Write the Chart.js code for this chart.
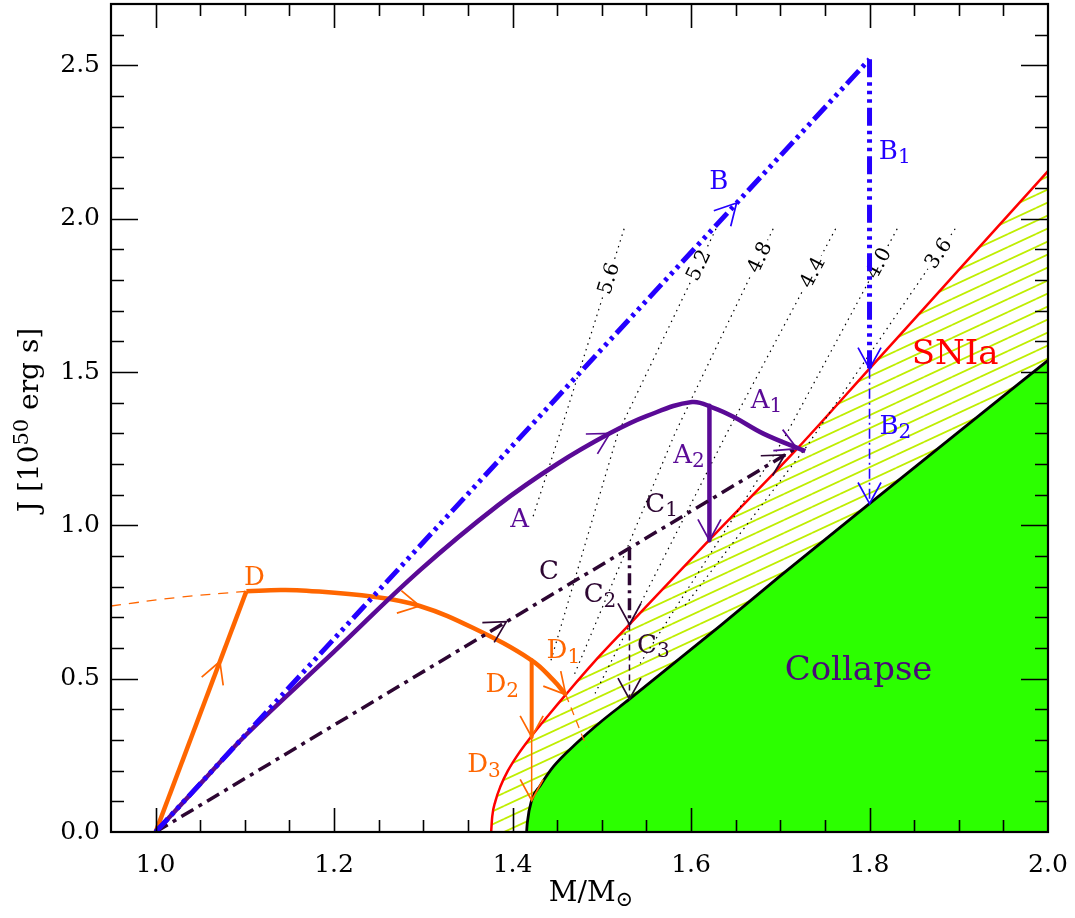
<!DOCTYPE html>
<html><head><meta charset="utf-8">
<script src="https://cdn.jsdelivr.net/npm/chart.js@4.4.1/dist/chart.umd.min.js"></script>
<style>html,body{margin:0;padding:0;background:#fff;overflow:hidden}canvas{display:block}</style>
</head><body>
<canvas id="c" width="1075" height="918"></canvas>
<script>
// ---------- data ----------
const xTicks = [1.0, 1.2, 1.4, 1.6, 1.8, 2.0];
const yTicks = [0.0, 0.5, 1.0, 1.5, 2.0, 2.5];

// SNIa boundary (red) and collapse boundary (black)
const snX = [1.376, 1.3772, 1.3807, 1.3866, 1.3948, 1.4054, 1.4205, 1.440, 1.4596, 1.49, 1.531, 1.62, 1.719, 1.8, 1.9, 2.0];
const snY = [0.0, 0.05, 0.1, 0.15, 0.2, 0.25, 0.31, 0.38, 0.448, 0.55, 0.677, 0.951, 1.25, 1.511, 1.833, 2.155];
const blX = [1.4157, 1.4165, 1.4214, 1.4307, 1.4457, 1.4719, 1.50, 1.531, 1.6326, 1.7, 1.8, 1.9, 2.0];
const blY = [0.0, 0.03, 0.104, 0.15, 0.213, 0.29, 0.362, 0.433, 0.672, 0.835, 1.071, 1.305, 1.538];

// track A
const aX = [1.0, 1.05, 1.1017, 1.2, 1.296, 1.3836, 1.45, 1.509, 1.55, 1.601, 1.625, 1.648, 1.681, 1.728];
const aY = [0.0, 0.157, 0.318, 0.588, 0.853, 1.065, 1.2, 1.3, 1.356, 1.402, 1.383, 1.353, 1.299, 1.242];
const a2X = [1.6206, 1.6206], a2Y = [1.39, 0.951];
// track B
const bX = [1.0, 1.8], bY = [0.0, 2.52];
const b1X = [1.8, 1.8], b1Y = [2.52, 1.511];
const b2X = [1.8, 1.8], b2Y = [1.511, 1.071];
// track C
const cX = [1.0, 1.717], cY = [0.0, 1.25];
const c2X = [1.531, 1.531], c2Y = [0.925, 0.677];
const c3X = [1.531, 1.531], c3Y = [0.677, 0.433];
// track D
const dX = [1.0, 1.1017], dY = [0.0, 0.785];
const d1X = [1.1017, 1.14, 1.169, 1.244, 1.296, 1.356, 1.4214, 1.4457, 1.4596];
const d1Y = [0.785, 0.789, 0.787, 0.767, 0.737, 0.665, 0.56, 0.495, 0.448];
const dLeftX = [0.95, 1.025, 1.1017], dLeftY = [0.737, 0.765, 0.785];
const dRightX = [1.4596, 1.471, 1.483], dRightY = [0.448, 0.365, 0.277];
const d2X = [1.4214, 1.4214], d2Y = [0.56, 0.31];
const d3X = [1.4214, 1.4214], d3Y = [0.31, 0.103];

// dotted iso-lines
const isoNames = ['5.6', '5.2', '4.8', '4.4', '4.0', '3.6'];
const iso56X = [1.525, 1.453, 1.422], iso56Y = [1.967, 1.3, 1.02];
const iso52X = [1.628, 1.518, 1.442], iso52Y = [1.967, 1.3, 0.55];
const iso48X = [1.692, 1.582, 1.468], iso48Y = [1.967, 1.3, 0.505];
const iso44X = [1.762, 1.640, 1.4925], iso44Y = [1.967, 1.3, 0.452];
const iso40X = [1.831, 1.703, 1.543], iso40Y = [1.967, 1.277, 0.55];
const iso36X = [1.896, 1.729, 1.591], iso36Y = [1.967, 1.255, 0.73];
const isoLabelY = [1.805, 1.848, 1.874, 1.825, 1.855, 1.887];

// ---------- styles ----------
const RED = '#ff0000', BLUE = '#2400ff', PURPLE = '#5a0a96', DARK = '#2d0632',
      ORANGE = '#ff6600', GREEN = '#2cff00', HATCH = '#bfee00', COLL = '#4a0a78';
const FAM = '"DejaVu Serif", "Liberation Serif", serif';

const isoX = [iso56X, iso52X, iso48X, iso44X, iso40X, iso36X];
const isoY = [iso56Y, iso52Y, iso48Y, iso44Y, iso40Y, iso36Y];

// annotation labels: [main, subscript, x, y, color]
const notes = [
  ['A', '', 1.408, 1.026, PURPLE], ['A', '1', 1.6845, 1.415, PURPLE], ['A', '2', 1.5978, 1.234, PURPLE],
  ['B', '', 1.631, 2.128, BLUE], ['B', '1', 1.8283, 2.226, BLUE], ['B', '2', 1.829, 1.329, BLUE],
  ['C', '', 1.4409, 0.857, DARK], ['C', '1', 1.567, 1.076, DARK], ['C', '2', 1.498, 0.78, DARK], ['C', '3', 1.5578, 0.615, DARK],
  ['D', '', 1.1107, 0.835, ORANGE], ['D', '1', 1.4569, 0.598, ORANGE], ['D', '2', 1.3884, 0.487, ORANGE], ['D', '3', 1.3679, 0.226, ORANGE]
];
// arrowheads: [tipX, tipY, fromX, fromY, color]
const arrows = [
  [1.509, 1.30, 1.45, 1.2, PURPLE], [1.719, 1.25, 1.681, 1.299, PURPLE], [1.6206, 0.951, 1.6206, 1.2, PURPLE],
  [1.651, 2.051, 1.5, 1.575, BLUE], [1.8, 1.511, 1.8, 2.0, BLUE], [1.8, 1.071, 1.8, 1.3, BLUE],
  [1.393, 0.686, 1.2, 0.349, DARK], [1.705, 1.23, 1.5, 0.8725, DARK], [1.531, 0.677, 1.531, 0.9, DARK], [1.531, 0.433, 1.531, 0.6, DARK],
  [1.072, 0.556, 1.0, 0.0, ORANGE], [1.296, 0.737, 1.244, 0.767, ORANGE], [1.4596, 0.448, 1.4457, 0.495, ORANGE],
  [1.4214, 0.31, 1.4214, 0.5, ORANGE], [1.4214, 0.103, 1.4214, 0.3, ORANGE]
];

function hatchPattern() {
  const c = document.createElement('canvas'); c.width = 28; c.height = 13;
  const g = c.getContext('2d');
  g.strokeStyle = HATCH; g.lineWidth = 1.8;
  for (const [ox, oy] of [[0, 0], [-28, 0], [28, 0], [0, -13], [0, 13]]) {
    g.beginPath(); g.moveTo(ox, 13 + oy); g.lineTo(28 + ox, oy); g.stroke();
  }
  return g.createPattern(c, 'repeat');
}

function pts(xs, ys) { return xs.map((x, i) => ({ x: x, y: ys[i] })); }
function path(xs, ys, color, width, dash, extra) {
  return Object.assign({
    data: pts(xs, ys), borderColor: color, backgroundColor: color, borderWidth: width,
    borderDash: dash || [], showLine: true, pointRadius: 0, pointHoverRadius: 0, fill: false,
    tension: 0, order: 0, borderCapStyle: 'butt', borderJoinStyle: 'round'
  }, extra || {});
}

const datasets = [
  path(snX, snY, RED, 2.5, [], { fill: 'origin', backgroundColor: hatchPattern(), cubicInterpolationMode: 'monotone', order: 100 }),
  path(blX, blY, '#000', 2.8, [], { fill: 'origin', backgroundColor: GREEN, cubicInterpolationMode: 'monotone', order: 99 })
];
isoX.forEach((xs, i) => datasets.push(path(xs, isoY[i], '#000', 1.2, [1.5, 4.5], { order: 50, isoIdx: i })));
datasets.push(
  path(bX, bY, BLUE, 5, [18, 5, 3.5, 5, 3.5, 5, 3.5, 5]),
  path(b1X, b1Y, BLUE, 5, [18, 5, 3.5, 5, 3.5, 5, 3.5, 5]),
  path(b2X, b2Y, BLUE, 1.6, [10, 4, 2, 4]),
  path(cX, cY, DARK, 3.5, [14, 6, 4, 6]),
  path(c2X, c2Y, DARK, 3.5, [12, 5, 3, 5]),
  path(c3X, c3Y, DARK, 1.5, [6, 4]),
  path(aX, aY, PURPLE, 4.5, [], { tension: 0.4 }),
  path(a2X, a2Y, PURPLE, 4.5),
  path(dX, dY, ORANGE, 4.5),
  path(d1X, d1Y, ORANGE, 4.5, [], { tension: 0.4 }),
  path(dLeftX, dLeftY, ORANGE, 1.3, [10, 8], { tension: 0.4 }),
  path(dRightX, dRightY, ORANGE, 1.3, [8, 6]),
  path(d2X, d2Y, ORANGE, 4),
  path(d3X, d3Y, ORANGE, 1.5)
);

function drawRich(ctx, parts, cx, cy, size, color) {
  const small = Math.round(size * 0.75);
  let w = 0;
  const ws = parts.map(([t, k]) => {
    ctx.font = (k ? small : size) + 'px ' + FAM;
    const m = ctx.measureText(t).width; w += m; return m;
  });
  let x = cx - w / 2;
  const base = cy + size * 0.73 / 2;
  ctx.fillStyle = color; ctx.textAlign = 'left'; ctx.textBaseline = 'alphabetic';
  parts.forEach(([t, k], i) => {
    ctx.font = (k ? small : size) + 'px ' + FAM;
    const yy = k === 1 ? base + size * 0.17 : (k === 2 ? base - size * 0.36 : base);
    ctx.fillText(t, x, yy); x += ws[i];
  });
}

const overlay = {
  id: 'overlay',
  afterDatasetDraw(chart, args) {
    const ds = chart.data.datasets[args.index];
    if (ds.isoIdx === undefined) return;
    const i = ds.isoIdx, xs = isoX[i], ys = isoY[i], ly = isoLabelY[i];
    const sx = chart.scales.x, sy = chart.scales.y, ctx = chart.ctx;
    const t = (ys[0] - ly) / (ys[0] - ys[1]);
    const lx = xs[0] + t * (xs[1] - xs[0]);
    const px = sx.getPixelForValue(lx), py = sy.getPixelForValue(ly);
    const ang = Math.atan2(sy.getPixelForValue(ys[0]) - sy.getPixelForValue(ys[1]),
                           sx.getPixelForValue(xs[0]) - sx.getPixelForValue(xs[1]));
    ctx.save();
    ctx.translate(px, py); ctx.rotate(ang);
    ctx.font = '20px ' + FAM;
    const w = ctx.measureText(isoNames[i]).width;
    ctx.fillStyle = '#fff'; ctx.fillRect(-w / 2 - 3, -10, w + 6, 20);
    ctx.fillStyle = '#000'; ctx.textAlign = 'center'; ctx.textBaseline = 'middle';
    ctx.fillText(isoNames[i], 0, 1);
    ctx.restore();
  },
  afterDatasetsDraw(chart) {
    const sx = chart.scales.x, sy = chart.scales.y, ctx = chart.ctx;
    ctx.save();
    arrows.forEach(([tx, ty, fx, fy, col]) => {
      const X = sx.getPixelForValue(tx), Y = sy.getPixelForValue(ty);
      const FX = sx.getPixelForValue(fx), FY = sy.getPixelForValue(fy);
      const a = Math.atan2(Y - FY, X - FX), L = 24, h = 0.5;
      ctx.strokeStyle = col; ctx.lineWidth = 1.7; ctx.setLineDash([]);
      ctx.beginPath();
      ctx.moveTo(X - L * Math.cos(a - h), Y - L * Math.sin(a - h));
      ctx.lineTo(X, Y);
      ctx.lineTo(X - L * Math.cos(a + h), Y - L * Math.sin(a + h));
      ctx.stroke();
    });
    notes.forEach(([m, s, x, y, col]) => {
      const parts = [[m, 0]]; if (s) parts.push([s, 1]);
      drawRich(ctx, parts, sx.getPixelForValue(x), sy.getPixelForValue(y), 26, col);
    });
    drawRich(ctx, [['SNIa', 0]], sx.getPixelForValue(1.896), sy.getPixelForValue(1.568), 34, RED);
    drawRich(ctx, [['Collapse', 0]], sx.getPixelForValue(1.7877), sy.getPixelForValue(0.536), 34, COLL);
    ctx.restore();
  },
  afterDraw(chart) {
    const { left, right, top, bottom } = chart.chartArea;
    const sx = chart.scales.x, sy = chart.scales.y, ctx = chart.ctx;
    ctx.save();
    ctx.strokeStyle = '#000'; ctx.setLineDash([]);
    ctx.lineWidth = 1.6;
    ctx.beginPath();
    for (let k = 1; k < 21; k++) {
      const v = 0.95 + k * 0.05;
      const major = xTicks.some(t => Math.abs(t - v) < 1e-6);
      const L = major ? 24 : 12, p = Math.round(sx.getPixelForValue(v)) + 0.5;
      ctx.moveTo(p, bottom); ctx.lineTo(p, bottom - L);
      ctx.moveTo(p, top); ctx.lineTo(p, top + L);
    }
    for (let k = 1; k < 27; k++) {
      const v = k * 0.1;
      const major = yTicks.some(t => Math.abs(t - v) < 1e-6);
      const L = major ? 27 : 13, p = Math.round(sy.getPixelForValue(v)) + 0.5;
      ctx.moveTo(left, p); ctx.lineTo(left + L, p);
      ctx.moveTo(right, p); ctx.lineTo(right - L, p);
    }
    ctx.stroke();
    ctx.lineWidth = 2.2;
    ctx.strokeRect(left, top, right - left, bottom - top);
    drawRich(ctx, [['M/M', 0], ['\u2299', 1]], 591, 891, 28, '#000');
    ctx.translate(28, 420); ctx.rotate(-Math.PI / 2);
    drawRich(ctx, [['J [10', 0], ['50', 2], [' erg s]', 0]], 0, 0, 28, '#000');
    ctx.restore();
  }
};

function zeroPad(s) { s.paddingTop = 0; s.paddingBottom = 0; s.paddingLeft = 0; s.paddingRight = 0; }
const tickFont = { family: 'DejaVu Serif', size: 25 };
new Chart(document.getElementById('c'), {
  type: 'scatter',
  data: { datasets: datasets },
  plugins: [overlay],
  options: {
    responsive: false, animation: false, events: [],
    layout: { padding: { left: 0, right: 27, top: 4, bottom: 0 } },
    plugins: { legend: { display: false }, tooltip: { enabled: false } },
    scales: {
      x: {
        type: 'linear', min: 0.95, max: 2.0,
        afterBuildTicks: s => { s.ticks = xTicks.map(v => ({ value: v })); },
        afterFit: s => { s.height = 86; zeroPad(s); },
        grid: { display: false, drawTicks: false }, border: { display: false },
        ticks: { font: tickFont, color: '#000', padding: 18, maxRotation: 0, autoSkip: false, callback: v => Number(v).toFixed(1) }
      },
      y: {
        type: 'linear', min: 0, max: 2.7,
        afterBuildTicks: s => { s.ticks = yTicks.map(v => ({ value: v })); },
        afterFit: s => { s.width = 111; zeroPad(s); },
        grid: { display: false, drawTicks: false }, border: { display: false },
        ticks: { font: tickFont, color: '#000', padding: 11, autoSkip: false, callback: v => Number(v).toFixed(1) }
      }
    }
  }
});
</script>
</body></html>
